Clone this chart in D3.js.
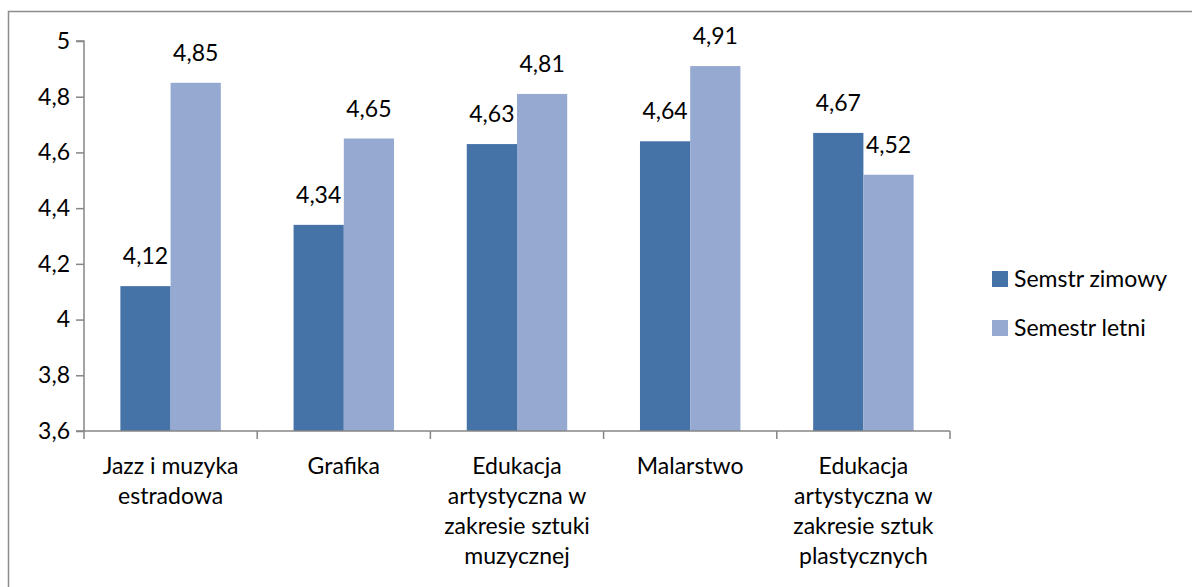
<!DOCTYPE html>
<html lang="pl">
  <head>
    <meta charset="utf-8" />
    <title>Semestr zimowy i letni</title>
    <style>
      body {
        margin: 0;
        background: #fff;
      }
      svg text {
        font-family: Lato, "Open Sans", sans-serif;
        fill: #000;
      }
    </style>
    <script src="https://d3js.org/d3.v7.min.js"></script>
  </head>
  <body>
    <svg width="1192" height="587"></svg>
    <script>
      // data
      var categories = [
        ["Jazz i muzyka", "estradowa"],
        ["Grafika"],
        ["Edukacja", "artystyczna w", "zakresie sztuki", "muzycznej"],
        ["Malarstwo"],
        ["Edukacja", "artystyczna w", "zakresie sztuk", "plastycznych"]
      ];
      var winter = [4.12, 4.34, 4.63, 4.64, 4.67];
      var summer = [4.85, 4.65, 4.81, 4.91, 4.52];
      var seriesNames = ["Semstr zimowy", "Semestr letni"];
      var yTicks = [3.6, 3.8, 4, 4.2, 4.4, 4.6, 4.8, 5];

      var colors = ["#4572a7", "#95a9d1"];
      var fmt = (v) => String(v).replace(".", ",");
      var fs = 23;

      var svg = d3.select("svg");

      // outer frame (runs off the right and bottom edge)
      svg.append("rect")
        .attr("x", 8.5)
        .attr("y", 11.5)
        .attr("width", 1200)
        .attr("height", 600)
        .attr("fill", "none")
        .attr("stroke", "#8c8c8c")
        .attr("stroke-width", 1.5);

      var plotLeft = 84, plotRight = 950, plotTop = 41, plotBottom = 431;

      var x = d3.scaleBand()
        .domain(d3.range(categories.length))
        .range([plotLeft, plotRight])
        .paddingInner(0.42)
        .paddingOuter(0.21);

      var x1 = d3.scaleBand()
        .domain([0, 1])
        .range([0, x.bandwidth()]);

      var y = d3.scaleLinear().domain([3.6, 5]).range([plotBottom, plotTop]);

      // bars
      var groups = svg.append("g")
        .selectAll("g")
        .data(categories.map((c, i) => [winter[i], summer[i]]))
        .join("g")
        .attr("transform", (d, i) => `translate(${x(i)},0)`);

      groups.selectAll("rect")
        .data((d) => d)
        .join("rect")
        .attr("x", (d, j) => x1(j))
        .attr("y", (d) => y(d))
        .attr("width", x1.bandwidth())
        .attr("height", (d) => y(3.6) - y(d))
        .attr("fill", (d, j) => colors[j]);

      groups.selectAll("text")
        .data((d) => d)
        .join("text")
        .attr("x", (d, j) => x1(j) + x1.bandwidth() / 2)
        .attr("y", (d) => y(d) - 22)
        .attr("text-anchor", "middle")
        .attr("font-size", fs)
        .text((d) => fmt(d));

      // y axis
      var yAxis = svg.append("g")
        .attr("transform", `translate(${plotLeft},0)`)
        .call(d3.axisLeft(y).tickValues(yTicks).tickSize(8).tickPadding(6).tickFormat(fmt));
      yAxis.selectAll("path, line").attr("stroke", "#868686").attr("stroke-width", 1.5);
      yAxis.selectAll("text").attr("font-size", fs).attr("font-family", null).attr("fill", "#000");
      yAxis.select(".domain").attr("d", `M-8,${plotTop}H0V${plotBottom}`);

      // x axis with ticks between categories
      var xAxis = svg.append("g").attr("transform", `translate(0,${plotBottom})`);
      xAxis.append("line")
        .attr("x1", plotLeft - 8)
        .attr("x2", plotRight)
        .attr("stroke", "#868686")
        .attr("stroke-width", 1.5);
      var step = x.step();
      xAxis.selectAll("line.tick")
        .data(d3.range(categories.length + 1))
        .join("line")
        .attr("class", "tick")
        .attr("x1", (d) => plotLeft + d * step)
        .attr("x2", (d) => plotLeft + d * step)
        .attr("y1", 0)
        .attr("y2", 8)
        .attr("stroke", "#868686")
        .attr("stroke-width", 1.5);

      xAxis.selectAll("text")
        .data(categories)
        .join("text")
        .attr("text-anchor", "middle")
        .attr("font-size", fs)
        .attr("x", (d, i) => x(i) + x.bandwidth() / 2)
        .attr("y", 43)
        .selectAll("tspan")
        .data((d) => d)
        .join("tspan")
        .attr("x", function () { return this.parentNode.getAttribute("x"); })
        .attr("dy", (d, k) => (k === 0 ? 0 : 30))
        .text((d) => d);

      // legend
      var legend = svg.append("g")
        .selectAll("g")
        .data(seriesNames)
        .join("g")
        .attr("transform", (d, i) => `translate(992,${271 + i * 49})`);
      legend.append("rect")
        .attr("width", 16)
        .attr("height", 16)
        .attr("fill", (d, i) => colors[i]);
      legend.append("text")
        .attr("x", 22)
        .attr("y", 16)
        .attr("font-size", fs)
        .text((d) => d);
    </script>
  </body>
</html>
